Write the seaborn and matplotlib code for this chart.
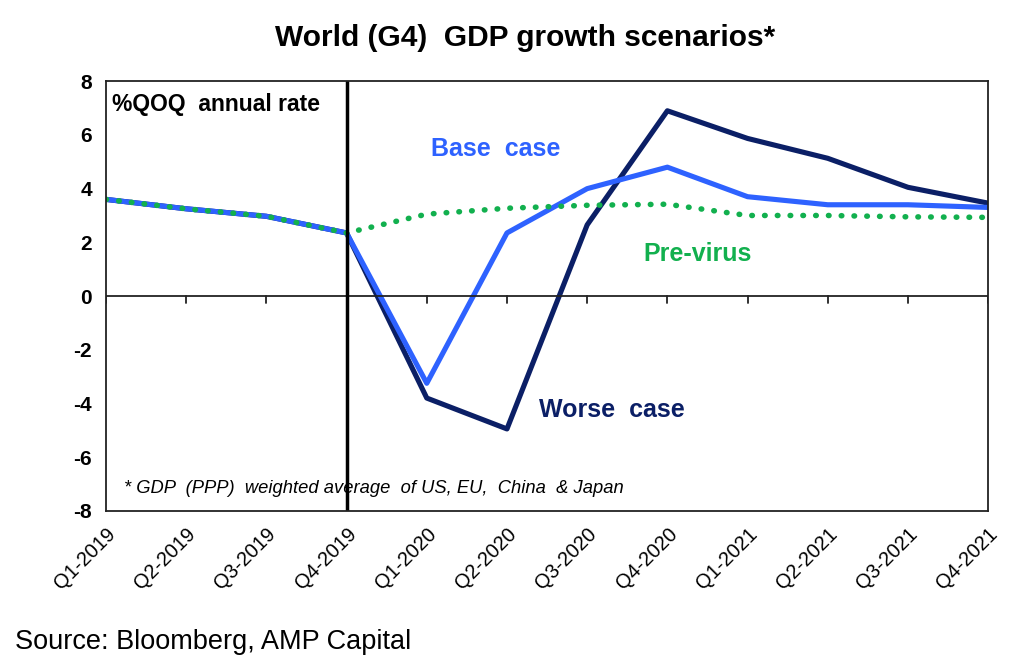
import matplotlib
matplotlib.use("Agg")
import matplotlib.pyplot as plt
import seaborn as sns
import pandas as pd

quarters = ["Q1-2019", "Q2-2019", "Q3-2019", "Q4-2019", "Q1-2020", "Q2-2020",
            "Q3-2020", "Q4-2020", "Q1-2021", "Q2-2021", "Q3-2021", "Q4-2021"]
base_case = [3.6, 3.25, 2.97, 2.35, -3.25, 2.35, 4.0, 4.8, 3.7, 3.4, 3.4, 3.3]
worse_case = [3.6, 3.25, 2.97, 2.35, -3.8, -4.95, 2.65, 6.9, 5.87, 5.13, 4.05, 3.46]
pre_virus = [3.6, 3.25, 2.97, 2.35, 3.05, 3.27, 3.38, 3.42, 3.0, 3.0, 2.95, 2.93]

df = pd.DataFrame({"x": range(len(quarters)), "Quarter": quarters,
                   "Base case": base_case, "Worse case": worse_case,
                   "Pre-virus": pre_virus})

sns.set_style("white")
plt.rcParams["font.family"] = ["Liberation Sans", "DejaVu Sans"]
plt.rcParams["text.color"] = "black"
plt.rcParams["xtick.color"] = "black"
plt.rcParams["ytick.color"] = "black"

fig = plt.figure(figsize=(10.24, 6.66), dpi=100)
ax = fig.add_axes([0.1035, 0.233, 0.8615, 0.645])

navy = "#0B1F66"
blue = "#2E62FF"
green = "#12B04E"

sns.lineplot(data=df, x="x", y="Worse case", color=navy, lw=3.7, ax=ax)
sns.lineplot(data=df, x="x", y="Base case", color=blue, lw=3.7, ax=ax)
sns.lineplot(data=df, x="x", y="Pre-virus", color=green, lw=4, ax=ax,
             linestyle=(0, (0.1, 2.2)), dash_capstyle="round")

ax.set_xlim(0, len(quarters) - 1)
ax.set_ylim(-8, 8)
ax.set_yticks(range(-8, 9, 2))
ax.set_yticklabels([str(v) for v in range(-8, 9, 2)], fontweight="bold", fontsize=15)
ax.set_xticks(df["x"])
ax.set_xticklabels(quarters, rotation=45, ha="right", rotation_mode="anchor", fontsize=14.5)
ax.tick_params(axis="both", length=0, pad=10)
ax.set_xlabel("")
ax.set_ylabel("")
for s in ax.spines.values():
    s.set_color("#222222")
    s.set_linewidth(1.3)

# zero line with small ticks
ax.axhline(0, color="#222222", lw=1.3)
for xi in df["x"]:
    ax.plot([xi, xi], [0, -0.25], color="#222222", lw=1.3)
ax.axvline(3, color="black", lw=2.5)

ax.text(0.08, 6.9, "%QOQ  annual rate", fontsize=16.5, fontweight="bold")
ax.text(4.05, 5.2, "Base  case", fontsize=18, fontweight="bold", color=blue)
ax.text(6.7, 1.3, "Pre-virus", fontsize=18, fontweight="bold", color=green)
ax.text(5.4, -4.5, "Worse  case", fontsize=18, fontweight="bold", color=navy)
ax.text(0.22, -7.35, "* GDP  (PPP)  weighted average  of US, EU,  China  & Japan",
        fontsize=13.2, style="italic")

fig.text(0.513, 0.943, "World (G4)  GDP growth scenarios*", ha="center", va="center",
         fontsize=21.5, fontweight="bold")
fig.text(0.015, 0.025, "Source: Bloomberg, AMP Capital", fontsize=19.5)

fig.savefig("out.png", dpi=100)
